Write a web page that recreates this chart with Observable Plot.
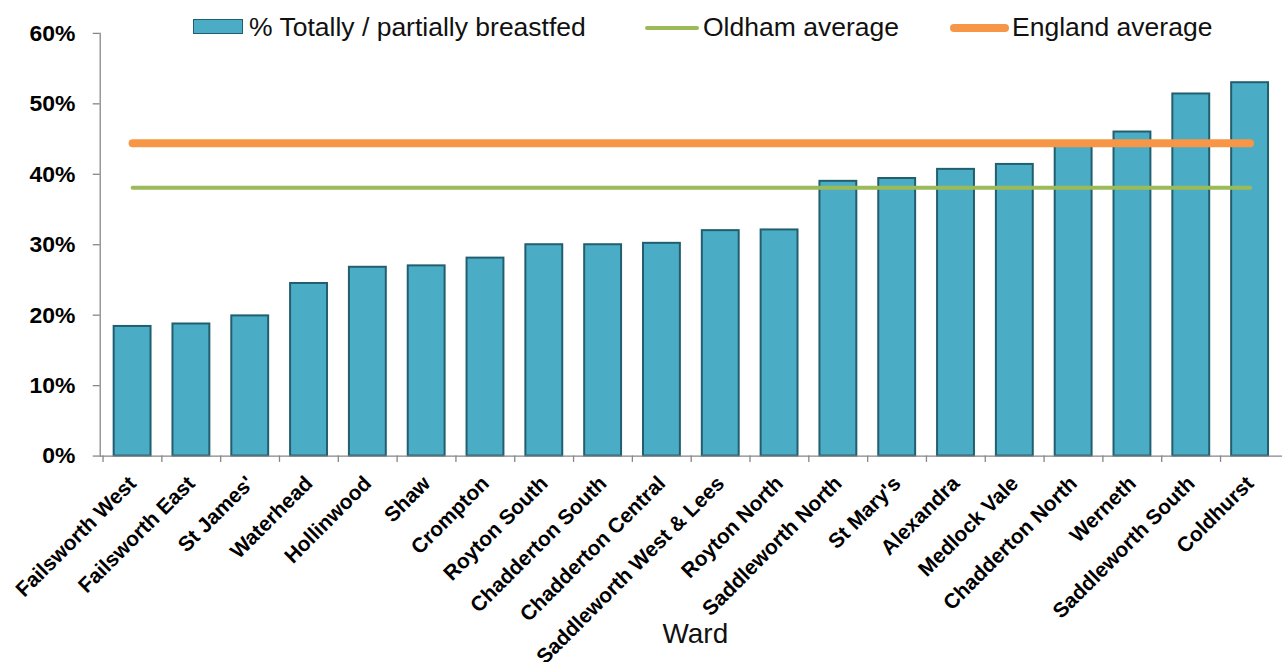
<!DOCTYPE html>
<html>
<head>
<meta charset="utf-8">
<script src="https://cdn.jsdelivr.net/npm/d3@7"></script>
<script src="https://cdn.jsdelivr.net/npm/@observablehq/plot@0.6"></script>
<style>
  html, body { margin: 0; padding: 0; background: #fff; }
  #wrap { position: relative; width: 1282px; height: 664px; overflow: hidden; font-family: "Liberation Sans", Arial, sans-serif; }
  #chart svg { display: block; }
  .leg { position: absolute; font-size: 26.5px; color: #111; line-height: 1; white-space: nowrap; }
  .sw { position: absolute; }
</style>
</head>
<body>
<div id="wrap">
  <div id="chart"></div>
</div>
<script>
const wards = ["Failsworth West","Failsworth East","St James'","Waterhead","Hollinwood","Shaw","Crompton","Royton South","Chadderton South","Chadderton Central","Saddleworth West & Lees","Royton North","Saddleworth North","St Mary's","Alexandra","Medlock Vale","Chadderton North","Werneth","Saddleworth South","Coldhurst"];
const breastfed = [0.184,0.1875,0.199,0.245,0.268,0.270,0.281,0.300,0.300,0.302,0.320,0.321,0.390,0.394,0.407,0.414,0.443,0.460,0.514,0.530];
const oldhamAvg = 0.381;
const englandAvg = 0.444;
const yTicks = [0,0.1,0.2,0.3,0.4,0.5,0.6];
const xTitle = "Ward";

const data = wards.map((w,i) => ({ward: w, value: breastfed[i]}));
const W = 1286, H = 664, mL = 100, mR = 0, mT = 33, mB = 207;
const step = (W - mL - mR) / wards.length;
const axisColor = "#868686";

const plot = Plot.plot({
  width: W, height: H,
  marginLeft: mL, marginRight: mR, marginTop: mT, marginBottom: mB,
  style: {fontFamily: "'Liberation Sans', Arial, sans-serif", background: "#fff", color: "#000"},
  x: {type: "band", domain: wards, paddingInner: 0.38, paddingOuter: 0.19},
  y: {domain: [0, 0.6]},
  marks: [
    Plot.barY(data, {x: "ward", y: "value", fill: "#4BACC6", stroke: "#215E6E", strokeWidth: 2}),
    Plot.ruleY([0], {stroke: axisColor, strokeWidth: 1.3}),
    Plot.frame({anchor: "left", stroke: axisColor, strokeWidth: 1.3}),
    Plot.ruleX(wards, {x: d => d, dx: -step/2, y1: 0, y2: -0.009, stroke: axisColor, strokeWidth: 1.3}),
    Plot.lineY(wards, {x: d => d, y: () => oldhamAvg, stroke: "#9BBB59", strokeWidth: 4, strokeLinecap: "round"}),
    Plot.lineY(wards, {x: d => d, y: () => englandAvg, stroke: "#F79646", strokeWidth: 8, strokeLinecap: "round"}),
    Plot.axisY({ticks: yTicks, tickFormat: d3.format(".0%"), tickSize: 7, tickPadding: 18, label: null,
      fontSize: 23, fontWeight: "bold", stroke: axisColor, strokeWidth: 1.3}),
    Plot.axisX({tickSize: 0, tickRotate: -45, tickPadding: 24, fontSize: 21, fontWeight: "bold", label: null}),
    Plot.text([xTitle], {frameAnchor: "bottom", dy: 188, dx: 4, fontSize: 28, fill: "#111"})
  ]
});
document.getElementById("chart").appendChild(plot);

// legend (HTML overlay)
const wrap = document.getElementById("wrap");
function add(html){ const d = document.createElement("div"); d.innerHTML = html; wrap.appendChild(d.firstElementChild); }
add(`<div class="sw" style="left:193px;top:19px;width:50px;height:15px;background:#4BACC6;border:1px solid #215E6E;box-sizing:border-box"></div>`);
add(`<div class="leg" style="left:249px;top:14px">% Totally / partially breastfed</div>`);
add(`<div class="sw" style="left:645px;top:26px;width:54px;height:4px;background:#9BBB59;border-radius:2px"></div>`);
add(`<div class="leg" style="left:703px;top:14px">Oldham average</div>`);
add(`<div class="sw" style="left:950px;top:24px;width:59px;height:8px;background:#F79646;border-radius:4px"></div>`);
add(`<div class="leg" style="left:1012px;top:14px">England average</div>`);
</script>
</body>
</html>
